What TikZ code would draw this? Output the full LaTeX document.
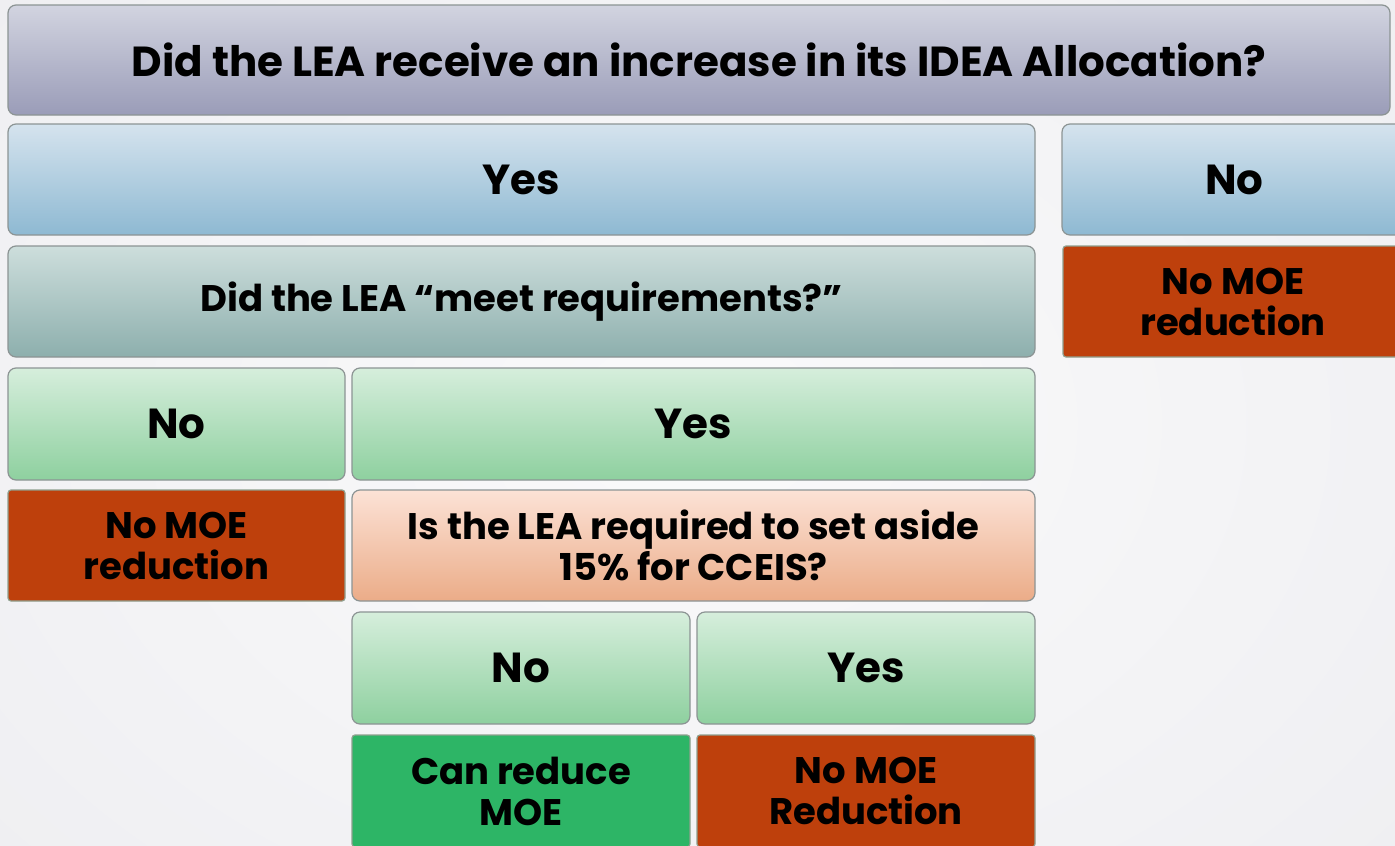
\documentclass[tikz,border=0pt]{standalone}
\usepackage{fontspec}
\setmainfont{Poppins}
\begin{document}
\begin{tikzpicture}[x=1pt,y=-1pt,
  box/.style={draw=boxline, line width=1.2pt, rounded corners=8pt, align=center, font=\fontsize{37}{41}\selectfont\bfseries, text=black, inner sep=0pt},
  big/.style={font=\fontsize{42}{46}\selectfont\bfseries},
  titlebox/.style={box, top color=titletop, bottom color=titlebot},
  bluebox/.style={box, big, top color=bluetop, bottom color=bluebot},
  tealbox/.style={box, top color=tealtop, bottom color=tealbot},
  greenbox/.style={box, big, top color=greentop, bottom color=greenbot},
  peachbox/.style={box, top color=peachtop, bottom color=peachbot},
  redbox/.style={box, fill=rustred, rounded corners=3pt, draw=redline},
  okbox/.style={box, fill=okgreen, rounded corners=3pt, draw=redline}]
\definecolor{boxline}{HTML}{8C9494}
\definecolor{redline}{HTML}{8FA08F}
\definecolor{titletop}{HTML}{D2D4E0}
\definecolor{titlebot}{HTML}{9A9CB8}
\definecolor{bluetop}{HTML}{D5E3EE}
\definecolor{bluebot}{HTML}{8EB9D2}
\definecolor{tealtop}{HTML}{CDDEDC}
\definecolor{tealbot}{HTML}{8DAFAD}
\definecolor{greentop}{HTML}{D6EEDC}
\definecolor{greenbot}{HTML}{8ED09F}
\definecolor{peachtop}{HTML}{FCE2D6}
\definecolor{peachbot}{HTML}{EBAC88}
\definecolor{rustred}{HTML}{BE400C}
\definecolor{okgreen}{HTML}{2DB566}
\definecolor{bgtop}{HTML}{F4F4F7}
\definecolor{bgmid}{HTML}{FAFAFB}
\useasboundingbox (0,0) rectangle (1395,846);
\clip (0,0) rectangle (1395,846);
\fill[inner color=bgmid, outer color=bgtop!95!gray] (-300,-300) rectangle (1695,1146);
% boxes: center x, center y, width, height
\node[titlebox, minimum width=1382pt, minimum height=110pt, big] (q1) at (699,60) {Did the LEA receive an increase in its IDEA Allocation?};
\node[bluebox, minimum width=1027pt, minimum height=111pt] (yes1) at (521.5,179.5) {Yes};
\node[bluebox, minimum width=345pt, minimum height=111pt] (no1) at (1234.5,179.5) {No};
\node[tealbox, minimum width=1027pt, minimum height=111pt] (q2) at (521.5,301.5) {Did the LEA “meet requirements?”};
\node[redbox, minimum width=340pt, minimum height=111pt] (r1) at (1233,301.5) {No MOE\\reduction};
\node[greenbox, minimum width=337pt, minimum height=112pt] (no2) at (176.5,424) {No};
\node[greenbox, minimum width=683pt, minimum height=112pt] (yes2) at (693.5,424) {Yes};
\node[redbox, minimum width=337pt, minimum height=111pt] (r2) at (176.5,545.5) {No MOE\\reduction};
\node[peachbox, minimum width=683pt, minimum height=111pt] (q3) at (693.5,545.5) {Is the LEA required to set aside\\15\% for CCEIS?};
\node[greenbox, minimum width=338pt, minimum height=112pt] (no3) at (521,668) {No};
\node[greenbox, minimum width=338pt, minimum height=112pt] (yes3) at (866,668) {Yes};
\node[okbox, minimum width=338pt, minimum height=112pt] (ok) at (521,791) {Can reduce\\MOE};
\node[redbox, minimum width=338pt, minimum height=112pt] (r3) at (866,791) {No MOE\\Reduction};
\end{tikzpicture}
\end{document}
